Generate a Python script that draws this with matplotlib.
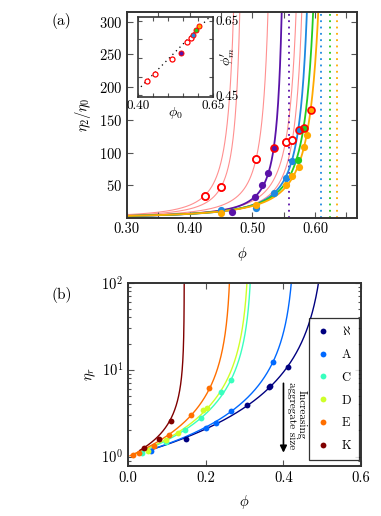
import numpy as np
import matplotlib
matplotlib.use('Agg')
import matplotlib.pyplot as plt

plt.rcParams['font.family'] = 'serif'
plt.rcParams['font.serif'] = ['cmr10']
plt.rcParams['mathtext.fontset'] = 'cm'
plt.rcParams['axes.formatter.use_mathtext'] = True
plt.rcParams['font.size'] = 10.5

# ---- panel (a) data ----
open_phi = [0.424, 0.450, 0.506, 0.553, 0.564, 0.574, 0.583, 0.593, 0.534]
open_eta = [34, 47, 90, 116, 119, 134, 137.6, 165, 106.5]

purple_phi = [0.468, 0.505, 0.515, 0.525, 0.534]
purple_eta = [9.2, 32.7, 50.5, 69, 106.5]
blue_phi = [0.450, 0.506, 0.534, 0.554, 0.5635, 0.574]
blue_eta = [12.3, 16, 38.8, 60.7, 87, 134]
green_phi = [0.573, 0.583]
green_eta = [88.7, 137.6]
orange_phi = [0.450, 0.506, 0.554, 0.5635, 0.574, 0.583, 0.588, 0.593]
orange_eta = [8.3, 19.4, 50.5, 64, 78.5, 109, 127.5, 165]

# fitted divergences (phi_m, exponent)
pink_fits = [(0.488, 1.74), (0.493, 1.58), (0.542, 1.66), (0.592, 1.75), (0.598, 1.67)]
col_fits = {'purple': (0.559, 1.50), 'blue': (0.609, 1.73),
            'green': (0.624, 1.83), 'orange': (0.635, 1.88)}
col_a = {'purple': '#5a12a8', 'blue': '#1e88e0', 'green': '#22cc22', 'orange': '#ffaa00'}

# inset data
in_open_x = [0.429, 0.457, 0.512, 0.562, 0.576]
in_open_y = [0.488, 0.506, 0.546, 0.593, 0.603]
in_fill_x = [0.543, 0.584, 0.593, 0.604]
in_fill_y = [0.562, 0.612, 0.625, 0.636]
in_fill_c = ['purple', 'blue', 'green', 'orange']

# ---- panel (b) data ----
labels_b = [r'$\aleph$', 'A', 'C', 'D', 'E', 'K']
phi_b = [
    [0.150, 0.306, 0.362, 0.366, 0.411],
    [0.059, 0.201, 0.227, 0.265, 0.373],
    [0.035, 0.099, 0.146, 0.187, 0.239, 0.264],
    [0.051, 0.098, 0.128, 0.193, 0.204],
    [0.012, 0.029, 0.066, 0.105, 0.163, 0.209],
    [0.041, 0.079, 0.1095],
]
eta_b = [
    [1.58, 3.87, 6.27, 6.56, 10.8],
    [1.17, 2.14, 2.46, 3.33, 12.3],
    [1.09, 1.49, 2.01, 2.78, 5.57, 7.7],
    [1.15, 1.56, 1.89, 3.47, 3.6],
    [1.05, 1.11, 1.34, 1.76, 3.03, 6.1],
    [1.24, 1.61, 2.57],
]
fits_b = [(0.513, 1.48), (0.431, 1.25), (0.3205, 1.16), (0.313, 1.21), (0.266, 1.16), (0.1448, 0.70)]
start_b = [0.06, 0.055, 0.02, 0.02, 0.005, 0.03]
cpos_b = [0.0, 0.23, 0.42, 0.6, 0.79, 1.0]


def model(phi, phim, n):
    return (1 - phi / phim) ** (-n)


def style_axes(ax):
    ax.tick_params(direction='in', which='both', top=True, right=True,
                   color='#555555', width=0.8)
    ax.tick_params(which='major', length=4)
    ax.tick_params(which='minor', length=2.5)
    for s in ax.spines.values():
        s.set_linewidth(1.4)
        s.set_color('#333333')


fig = plt.figure(figsize=(3.81, 5.16), dpi=100)

# ---------------- (a) ----------------
ax = fig.add_axes([0.333, 0.578, 0.604, 0.399])
for phim, n in pink_fits:
    x = np.linspace(0.30, phim * 0.999, 600)
    ax.plot(x, model(x, phim, n), color='#ff9090', lw=0.8, zorder=1)
for key in ['purple', 'blue', 'green', 'orange']:
    phim, n = col_fits[key]
    x = np.linspace(0.30, phim * 0.999, 600)
    ax.plot(x, model(x, phim, n), color=col_a[key], lw=1.3, zorder=2)
    ax.axvline(phim, color=col_a[key], ls=(0, (1, 2.5)), lw=1.3, zorder=2)

ms = 5.2
ax.plot(purple_phi, purple_eta, 'o', color=col_a['purple'], ms=ms, mec='none', zorder=4)
ax.plot(blue_phi, blue_eta, 'o', color=col_a['blue'], ms=ms, mec='none', zorder=4)
ax.plot(green_phi, green_eta, 'o', color=col_a['green'], ms=ms, mec='none', zorder=4)
ax.plot(orange_phi, orange_eta, 'o', color=col_a['orange'], ms=ms, mec='none', zorder=4)
ax.plot(open_phi, open_eta, 'o', mfc='none', mec='red', mew=1.2, ms=5.0, zorder=5)
ax.plot(open_phi[:5], open_eta[:5], 'o', mfc='white', mec='red', mew=1.2, ms=5.0, zorder=5)

ax.set_xlim(0.30, 0.667)
ax.set_ylim(0.5, 315)
ax.set_xticks(np.arange(0.30, 0.66, 0.05))
ax.set_xticklabels(['0.30', '', '0.40', '', '0.50', '', '0.60', ''])
ax.set_yticks([50, 100, 150, 200, 250, 300])
ax.set_xlabel(r'$\phi$', labelpad=6)
ax.set_ylabel(r'$\eta_2/\eta_0$', labelpad=4)
style_axes(ax)
fig.text(0.135, 0.952, '(a)', fontsize=11)

# inset
ins = fig.add_axes([0.362, 0.812, 0.197, 0.155])
ins.set_zorder(10)
lx = np.array([0.41, 0.65])
ins.plot(lx, 0.488 + 0.82 * (lx - 0.429), color='black', ls=(0, (1, 3)), lw=0.9)
ins.plot(in_open_x, in_open_y, 'o', mfc='white', mec='red', mew=0.9, ms=3.6)
for xx, yy, c in zip(in_fill_x, in_fill_y, in_fill_c):
    ins.plot(xx, yy, 'o', color=col_a[c], mec='red', mew=0.7, ms=3.6)
ins.set_xlim(0.40, 0.65)
ins.set_ylim(0.445, 0.66)
ins.set_xticks(np.arange(0.40, 0.66, 0.05))
ins.set_xticklabels(['0.40', '', '', '', '', '0.65'])
ins.set_yticks(np.arange(0.45, 0.66, 0.05))
ins.set_yticklabels(['0.45', '', '', '', '0.65'])
ins.yaxis.tick_right()
ins.tick_params(direction='in', top=True, left=True, right=True, length=3,
                color='#555555', labelsize=9.5, pad=2)
for s in ins.spines.values():
    s.set_linewidth(1.2)
    s.set_color('#333333')
ins.text(0.5, -0.2, r'$\phi_0$', transform=ins.transAxes, ha='center', va='center', fontsize=10)
ins.text(1.2, 0.5, r"$\phi_m'$", transform=ins.transAxes, ha='center', va='center',
         rotation=90, fontsize=10)

# ---------------- (b) ----------------
bx = fig.add_axes([0.336, 0.097, 0.612, 0.355])
cols_b = [plt.cm.jet(v) for v in cpos_b]
for i in range(len(labels_b)):
    phim, n = fits_b[i]
    x = np.linspace(start_b[i], phim * 0.99999, 800)
    bx.plot(x, model(x, phim, n), color=cols_b[i], lw=1.0, zorder=2)
    bx.plot(phi_b[i], eta_b[i], 'o', color=cols_b[i], ms=4.2, mec='none',
            label=labels_b[i], zorder=3)

bx.set_yscale('log')
bx.set_xlim(0, 0.6)
bx.set_ylim(0.78, 100)
bx.set_xticks([0.0, 0.2, 0.4, 0.6])
bx.set_xticklabels(['0.0', '0.2', '0.4', '0.6'])
bx.set_xlabel(r'$\phi$', labelpad=6)
bx.set_ylabel(r'$\eta_r$', labelpad=2)
style_axes(bx)
leg = bx.legend(loc='lower right', bbox_to_anchor=(0.99, 0.035), borderaxespad=0,
                frameon=True, fancybox=False, fontsize=9, labelspacing=0.85,
                handletextpad=1.0, handlelength=1.0, borderpad=0.6)
leg.get_frame().set_edgecolor('black')
leg.get_frame().set_linewidth(0.9)
bx.annotate('', xy=(0.40, 1.03), xytext=(0.40, 7.5),
            arrowprops=dict(arrowstyle='-|>', color='black', lw=1.2, mutation_scale=10))
bx.text(0.435, 3.0, 'Increasing\naggregate size', rotation=270, ha='center', va='center',
        fontsize=8, linespacing=0.95)
fig.text(0.135, 0.42, '(b)', fontsize=11)

fig.savefig('out.png', dpi=100)
